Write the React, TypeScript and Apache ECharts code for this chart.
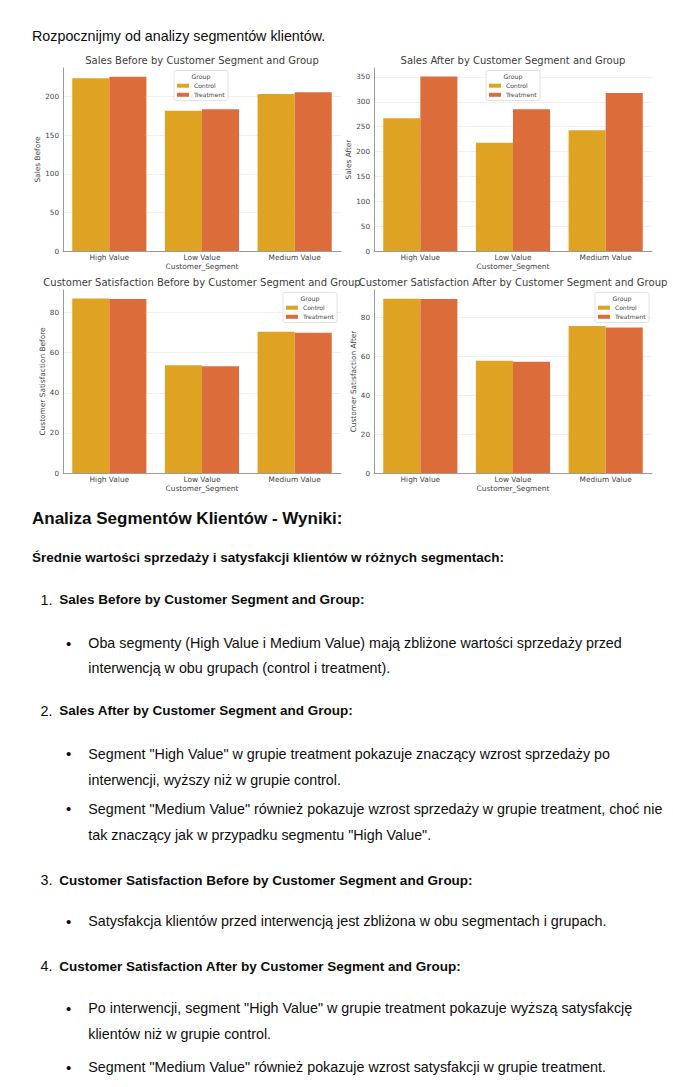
import React, { useEffect, useRef } from 'react';
import * as echarts from 'echarts';

// ---------- data ----------
const categories = ['High Value', 'Low Value', 'Medium Value'];
const groups = ['Control', 'Treatment'];

const salesBeforeControl = [223.7, 181.7, 203.4];
const salesBeforeTreatment = [225.8, 183.5, 205.5];
const salesAfterControl = [267.0, 217.6, 243.0];
const salesAfterTreatment = [350.7, 285.0, 317.8];
const satBeforeControl = [87.0, 53.7, 70.5];
const satBeforeTreatment = [86.8, 53.3, 70.0];
const satAfterControl = [89.4, 57.6, 75.4];
const satAfterTreatment = [89.3, 57.1, 74.7];

const chartTitles = [
  'Sales Before by Customer Segment and Group',
  'Sales After by Customer Segment and Group',
  'Customer Satisfaction Before by Customer Segment and Group',
  'Customer Satisfaction After by Customer Segment and Group',
];
const yAxisNames = ['Sales Before', 'Sales After', 'Customer Satisfaction Before', 'Customer Satisfaction After'];
const xAxisName = 'Customer_Segment';
const legendTitle = 'Group';
const yMax = [237, 368, 91.3, 93.9];
const yInterval = [50, 50, 20, 20];

const introText = 'Rozpocznijmy od analizy segmentów klientów.';
const headingText = 'Analiza Segmentów Klientów - Wyniki:';
const subheadingText = 'Średnie wartości sprzedaży i satysfakcji klientów w różnych segmentach:';
const itemNumbers = ['1.', '2.', '3.', '4.'];
const itemTitles = [
  'Sales Before by Customer Segment and Group:',
  'Sales After by Customer Segment and Group:',
  'Customer Satisfaction Before by Customer Segment and Group:',
  'Customer Satisfaction After by Customer Segment and Group:',
];
const itemBullets: string[][][] = [
  [['Oba segmenty (High Value i Medium Value) mają zbliżone wartości sprzedaży przed', 'interwencją w obu grupach (control i treatment).']],
  [
    ['Segment "High Value" w grupie treatment pokazuje znaczący wzrost sprzedaży po', 'interwencji, wyższy niż w grupie control.'],
    ['Segment "Medium Value" również pokazuje wzrost sprzedaży w grupie treatment, choć nie', 'tak znaczący jak w przypadku segmentu "High Value".'],
  ],
  [['Satysfakcja klientów przed interwencją jest zbliżona w obu segmentach i grupach.']],
  [
    ['Po interwencji, segment "High Value" w grupie treatment pokazuje wyższą satysfakcję', 'klientów niż w grupie control.'],
    ['Segment "Medium Value" również pokazuje wzrost satysfakcji w grupie treatment.'],
  ],
];

// ---------- layout ----------
const panels = [
  { left: 63, top: 68, titleY: 60.7, nameGap: 20, legend: { x: 174, y: 70.5 } },
  { left: 374, top: 68, titleY: 60.7, nameGap: 20, legend: { x: 486, y: 70.5 } },
  { left: 63, top: 290, titleY: 282.3, nameGap: 16.5, legend: { x: 283, y: 292.5 } },
  { left: 374, top: 290, titleY: 282.3, nameGap: 16, legend: { x: 595, y: 292.5 } },
];
const gridW = 278;
const gridH = 183;

const itemTitleY = [599.5, 710.8, 880, 966];
const bulletLineY = [
  [[643, 668]],
  [[753.5, 779.5], [808.5, 834.5]],
  [[921]],
  [[1008, 1034], [1067]],
];

const C_CONTROL = '#DFA323';
const C_TREAT = '#DC6D3A';
const MPL_FONT = 'DejaVu Sans';
const BODY_FONT = 'Liberation Sans';
const BODY_COLOR = '#0d0d0d';
const BODY_SIZE = 14.3;

const seriesData = [
  [salesBeforeControl, salesBeforeTreatment],
  [salesAfterControl, salesAfterTreatment],
  [satBeforeControl, satBeforeTreatment],
  [satAfterControl, satAfterTreatment],
];

function buildOption() {
  const grid = panels.map((p) => ({ left: p.left, top: p.top, width: gridW, height: gridH }));
  const xAxis = panels.map((p, i) => ({
    type: 'category',
    gridIndex: i,
    data: categories,
    axisLine: { show: true, lineStyle: { color: '#9a9a9a', width: 1 } },
    axisTick: { show: false },
    axisLabel: { fontFamily: MPL_FONT, fontSize: 7.4, color: '#444', margin: 3 },
    name: xAxisName,
    nameLocation: 'middle',
    nameGap: 12,
    nameTextStyle: { fontFamily: MPL_FONT, fontSize: 7.4, color: '#444' },
  }));
  const yAxis = panels.map((p, i) => ({
    type: 'value',
    gridIndex: i,
    min: 0,
    max: yMax[i],
    interval: yInterval[i],
    axisLine: { show: true, lineStyle: { color: '#9a9a9a', width: 1 } },
    axisTick: { show: false },
    axisLabel: { fontFamily: MPL_FONT, fontSize: 7.2, color: '#444', margin: 4, showMaxLabel: false },
    splitLine: { show: true, showMaxLine: false, lineStyle: { color: '#ececec', width: 0.8 } },
    name: yAxisNames[i],
    nameLocation: 'middle',
    nameGap: p.nameGap,
    nameTextStyle: { fontFamily: MPL_FONT, fontSize: 7.4, color: '#444' },
  }));
  const series: any[] = [];
  panels.forEach((p, i) => {
    groups.forEach((g, gi) => {
      series.push({
        type: 'bar',
        name: g,
        xAxisIndex: i,
        yAxisIndex: i,
        data: seriesData[i][gi],
        barGap: '0%',
        barCategoryGap: '20%',
        itemStyle: { color: gi === 0 ? C_CONTROL : C_TREAT },
        z: 2,
      });
    });
  });
  const legend = panels.map((p) => ({
    orient: 'vertical',
    left: p.legend.x + 3,
    top: p.legend.y + 15.2 - 3,
    itemWidth: 12,
    itemHeight: 4,
    itemGap: 3.1,
    padding: 0,
    icon: 'rect',
    selectedMode: false,
    data: groups,
    z: 20,
    textStyle: { fontFamily: MPL_FONT, fontSize: 6, color: '#444', lineHeight: 6 },
  }));

  const graphic: any[] = [];
  panels.forEach((p, i) => {
    graphic.push({
      type: 'text',
      x: p.left + gridW / 2,
      y: p.titleY,
      z: 5,
      style: { text: chartTitles[i], fontFamily: MPL_FONT, fontSize: 10, fill: '#3c3c3c', align: 'center', verticalAlign: 'middle' },
    });
    graphic.push({
      type: 'rect',
      z: 15,
      shape: { x: p.legend.x, y: p.legend.y, width: 54, height: 30, r: 2 },
      style: { fill: 'rgba(255,255,255,0.85)', stroke: '#dadada', lineWidth: 0.8 },
    });
    graphic.push({
      type: 'text',
      z: 16,
      x: p.legend.x + 27,
      y: p.legend.y + 6.3,
      style: { text: legendTitle, fontFamily: MPL_FONT, fontSize: 6.2, fill: '#444', align: 'center', verticalAlign: 'middle' },
    });
  });

  const bodyText = (x: number, y: number, text: string, size: number, bold: boolean, align = 'left') => ({
    type: 'text',
    x,
    y,
    style: {
      text,
      fontFamily: BODY_FONT,
      fontSize: size,
      fontWeight: bold ? 'bold' : 'normal',
      fill: BODY_COLOR,
      align,
      verticalAlign: 'middle',
    },
  });

  graphic.push(bodyText(32, 35.7, introText, BODY_SIZE, false));
  graphic.push(bodyText(32, 518.3, headingText, 17, true));
  graphic.push(bodyText(32, 557.5, subheadingText, 13.5, true));
  itemTitles.forEach((t, i) => {
    graphic.push(bodyText(40.5, itemTitleY[i], itemNumbers[i], BODY_SIZE, false));
    graphic.push(bodyText(59.3, itemTitleY[i], t, 13.5, true));
    itemBullets[i].forEach((bullet, bi) => {
      const ys = bulletLineY[i][bi];
      graphic.push(bodyText(68.5, ys[0], '•', 15, false, 'center'));
      bullet.forEach((line, li) => {
        graphic.push(bodyText(88.3, ys[li], line, BODY_SIZE, false));
      });
    });
  });

  return {
    animation: false,
    backgroundColor: '#ffffff',
    grid,
    xAxis,
    yAxis,
    series,
    legend,
    graphic,
  };
}

export default function App() {
  const ref = useRef<HTMLDivElement>(null);
  useEffect(() => {
    if (!ref.current) return;
    const chart = echarts.init(ref.current, null, { renderer: 'svg' });
    chart.setOption(buildOption() as any);
    return () => {
      chart.dispose();
    };
  }, []);
  return (
    <div
      ref={ref}
      style={{ position: 'absolute', left: 0, top: 0, width: 673, height: 1087, background: '#ffffff' }}
    />
  );
}
